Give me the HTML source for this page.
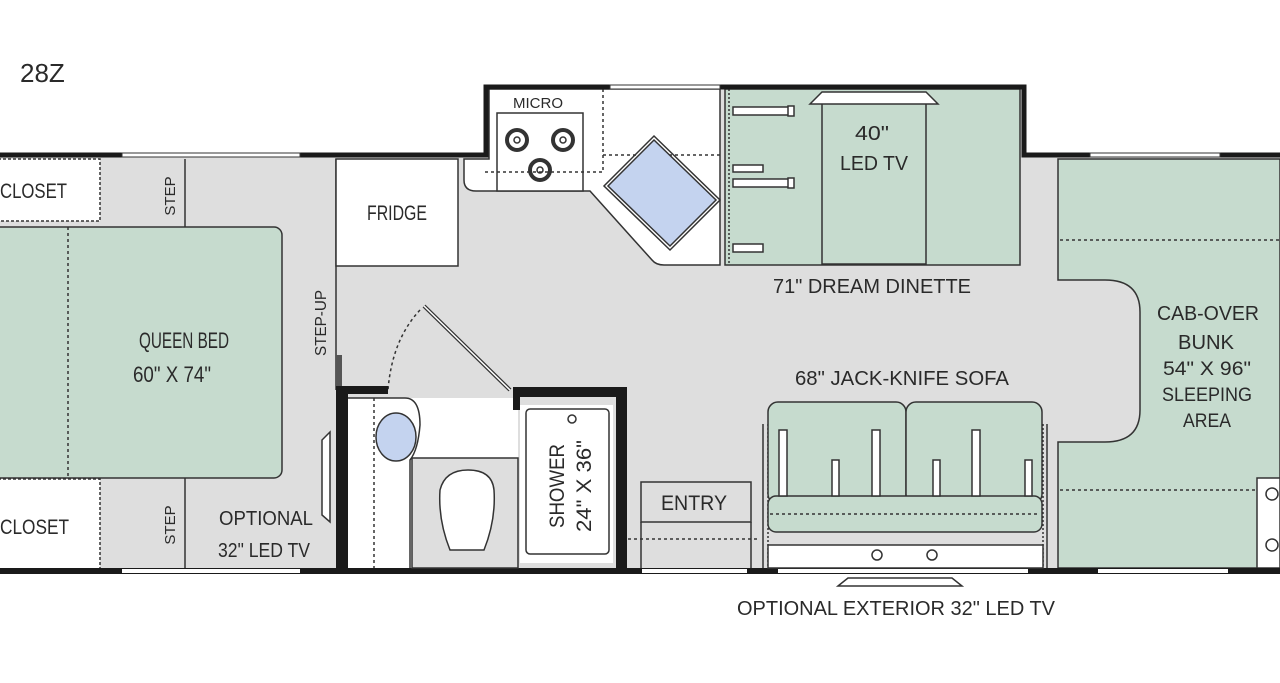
<!DOCTYPE html>
<html><head><style>
html,body{margin:0;padding:0;background:#fff;}
svg{display:block;}
text{font-family:"Liberation Sans Narrow","Liberation Sans",sans-serif;fill:#2a2a2a;}
</style></head><body>
<svg width="1280" height="683" viewBox="0 0 1280 683" xmlns="http://www.w3.org/2000/svg">
<rect width="1280" height="683" fill="#fff"/>
<text x="20" y="82" font-size="26">28Z</text>

<rect x="0" y="157" width="1280" height="412" fill="#dedede"/>
<rect x="487" y="89" width="535" height="70" fill="#dedede"/>

<path d="M1058 159 H1280 V568 H1058 V442 H1105 Q1140 442 1140 410 V312 Q1140 280 1105 280 H1058 Z" fill="#c6dbce" stroke="#333" stroke-width="1.5"/>
<line x1="1060" y1="240" x2="1280" y2="240" stroke="#333" stroke-width="1.5" stroke-dasharray="3,3"/>
<line x1="1060" y1="490" x2="1280" y2="490" stroke="#333" stroke-width="1.5" stroke-dasharray="3,3"/>
<rect x="1257" y="478" width="23" height="90" fill="#fff" stroke="#333" stroke-width="1.5"/>
<circle cx="1272" cy="494" r="6" fill="#fff" stroke="#333" stroke-width="1.5"/>
<circle cx="1272" cy="545" r="6" fill="#fff" stroke="#333" stroke-width="1.5"/>
<text x="1208" y="320" font-size="20" text-anchor="middle" textLength="102" lengthAdjust="spacingAndGlyphs">CAB-OVER</text>
<text x="1206" y="349" font-size="20" text-anchor="middle" textLength="56" lengthAdjust="spacingAndGlyphs">BUNK</text>
<text x="1207" y="375" font-size="19" text-anchor="middle" textLength="88" lengthAdjust="spacingAndGlyphs">54" X 96"</text>
<text x="1207" y="401" font-size="19" text-anchor="middle" textLength="90" lengthAdjust="spacingAndGlyphs">SLEEPING</text>
<text x="1207" y="427" font-size="19" text-anchor="middle" textLength="48" lengthAdjust="spacingAndGlyphs">AREA</text>

<rect x="-2" y="159" width="102" height="62" fill="#fff" stroke="#333" stroke-width="1.5" stroke-dasharray="3,2"/>
<rect x="-2" y="479" width="102" height="90" fill="#fff" stroke="#333" stroke-width="1.5" stroke-dasharray="3,2"/>
<text x="0" y="198" font-size="21" textLength="67" lengthAdjust="spacingAndGlyphs">CLOSET</text>
<text x="0" y="534" font-size="21" textLength="69" lengthAdjust="spacingAndGlyphs">CLOSET</text>
<line x1="185" y1="159" x2="185" y2="228" stroke="#333" stroke-width="1.5"/>
<line x1="185" y1="478" x2="185" y2="568" stroke="#333" stroke-width="1.5"/>
<text transform="translate(175,196) rotate(-90)" font-size="15" text-anchor="middle">STEP</text>
<text transform="translate(175,525) rotate(-90)" font-size="15" text-anchor="middle">STEP</text>

<rect x="-10" y="227" width="292" height="251" rx="8" fill="#c6dbce" stroke="#333" stroke-width="1.5"/>
<line x1="68" y1="227" x2="68" y2="478" stroke="#333" stroke-width="1.5" stroke-dasharray="3,3"/>
<text x="184" y="348" font-size="22" text-anchor="middle" textLength="90" lengthAdjust="spacingAndGlyphs">QUEEN BED</text>
<text x="172" y="382" font-size="22" text-anchor="middle" textLength="78" lengthAdjust="spacingAndGlyphs">60" X 74"</text>

<line x1="336" y1="159" x2="336" y2="390" stroke="#333" stroke-width="1.5"/>
<rect x="336" y="355" width="6" height="35" fill="#555"/>
<text transform="translate(326,323) rotate(-90)" font-size="16" text-anchor="middle" textLength="66" lengthAdjust="spacingAndGlyphs">STEP-UP</text>
<text x="266" y="525" font-size="20" text-anchor="middle" textLength="94" lengthAdjust="spacingAndGlyphs">OPTIONAL</text>
<text x="264" y="557" font-size="20" text-anchor="middle" textLength="92" lengthAdjust="spacingAndGlyphs">32" LED TV</text>
<path d="M330 432 L322 440 L322 515 L330 522 Z" fill="#fff" stroke="#333" stroke-width="1.5"/>

<rect x="336" y="159" width="122" height="107" fill="#fff" stroke="#333" stroke-width="1.5"/>
<text x="397" y="220" font-size="21" text-anchor="middle" textLength="60" lengthAdjust="spacingAndGlyphs">FRIDGE</text>

<path d="M464 159 V180 Q464 191 476 191 H590 L652 260 Q656 265 664 265 H720 V89 H489 V159 Z" fill="#fff" stroke="#333" stroke-width="1.5"/>
<rect x="497" y="113" width="86" height="78" fill="#fff" stroke="#333" stroke-width="1.5"/>
<path d="M485 172 H603 V89 M603 155 H722" fill="none" stroke="#333" stroke-width="1.5" stroke-dasharray="3,3"/>
<g fill="none" stroke="#333">
<circle cx="517" cy="140" r="10" stroke-width="4"/><circle cx="517" cy="140" r="3" stroke-width="1.5"/>
<circle cx="563" cy="140" r="10" stroke-width="4"/><circle cx="563" cy="140" r="3" stroke-width="1.5"/>
<circle cx="540" cy="170" r="10" stroke-width="4"/><circle cx="540" cy="170" r="3" stroke-width="1.5"/>
</g>
<text x="538" y="108" font-size="15" text-anchor="middle" textLength="50" lengthAdjust="spacingAndGlyphs">MICRO</text>
<path d="M654 140 L716 200 L670 246 L608 186 Z" fill="#c4d3ef" stroke="#333" stroke-width="1.5"/>
<path d="M654 136 L720 200 L670 250 L604 186 Z" fill="none" stroke="#333" stroke-width="1.5"/>

<rect x="725" y="89" width="295" height="176" fill="#c6dbce" stroke="#333" stroke-width="1.5"/>
<line x1="729" y1="89" x2="729" y2="265" stroke="#333" stroke-width="1.5" stroke-dasharray="2,2"/>
<rect x="822" y="100" width="104" height="164" fill="#c6dbce" stroke="#333" stroke-width="1.5"/>
<path d="M810 104 L822 92 H926 L938 104 Z" fill="#fff" stroke="#333" stroke-width="1.5"/>
<g fill="#fff" stroke="#333" stroke-width="1.5">
<rect x="733" y="107" width="60" height="8"/><rect x="788" y="106" width="6" height="10"/>
<rect x="733" y="179" width="60" height="8"/><rect x="788" y="178" width="6" height="10"/>
<rect x="733" y="165" width="30" height="7"/><rect x="733" y="244" width="30" height="8"/>
</g>
<text x="872" y="140" font-size="20" text-anchor="middle" textLength="34" lengthAdjust="spacingAndGlyphs">40"</text>
<text x="874" y="170" font-size="20" text-anchor="middle" textLength="68" lengthAdjust="spacingAndGlyphs">LED TV</text>
<text x="872" y="293" font-size="20" text-anchor="middle" textLength="198" lengthAdjust="spacingAndGlyphs">71" DREAM DINETTE</text>

<path d="M0 155 H486 V87 H1024 V155 H1280" fill="none" stroke="#1a1a1a" stroke-width="5"/>
<rect x="610" y="85" width="110" height="4" fill="#fff" stroke="#333" stroke-width="1"/>
<rect x="122" y="153" width="178" height="4" fill="#fff" stroke="#333" stroke-width="1"/>
<rect x="1090" y="153" width="130" height="4" fill="#fff" stroke="#333" stroke-width="1"/>

<rect x="0" y="568" width="1280" height="6" fill="#1a1a1a"/>
<rect x="122" y="569" width="178" height="4" fill="#fff"/>
<rect x="642" y="569" width="105" height="4" fill="#fff"/>
<rect x="778" y="569" width="250" height="4" fill="#fff"/>
<rect x="1098" y="569" width="130" height="4" fill="#fff"/>

<line x1="424" y1="306" x2="510" y2="390" stroke="#333" stroke-width="4"/>
<line x1="424" y1="306" x2="510" y2="390" stroke="#fff" stroke-width="1.5"/>
<path d="M420 310 Q392 340 388 390" fill="none" stroke="#333" stroke-width="1.5" stroke-dasharray="3,3"/>

<rect x="348" y="398" width="170" height="170" fill="#fff"/>
<path d="M412 458 H518 V568 H412 Z" fill="#dedede" stroke="#333" stroke-width="1.5"/>
<path d="M348 398 H405 Q420 398 420 425 Q418 450 410 460 V568" fill="none" stroke="#333" stroke-width="1.5"/>
<line x1="374" y1="398" x2="374" y2="568" stroke="#333" stroke-width="1.5" stroke-dasharray="3,3"/>
<ellipse cx="396" cy="437" rx="20" ry="24" fill="#c4d3ef" stroke="#333" stroke-width="1.5"/>
<path d="M450 550 Q438 520 440 490 Q445 470 468 470 Q492 470 494 490 Q496 520 484 550 Z" fill="#fff" stroke="#333" stroke-width="1.5"/>
<path d="M336 570 V386 H388 V394 H348 V570" fill="#1a1a1a"/>
<path d="M513 387 H627 V570 H616 V397 H520 V410 H513 Z" fill="#1a1a1a"/>
<rect x="520" y="405" width="93" height="158" fill="#fff"/>
<rect x="526" y="409" width="83" height="145" rx="4" fill="#fff" stroke="#333" stroke-width="1.5"/>
<circle cx="572" cy="419" r="4" fill="none" stroke="#333" stroke-width="1.5"/>
<text transform="translate(564,486) rotate(-90)" font-size="21" text-anchor="middle" textLength="84" lengthAdjust="spacingAndGlyphs">SHOWER</text>
<text transform="translate(591,486) rotate(-90)" font-size="21" text-anchor="middle" textLength="92" lengthAdjust="spacingAndGlyphs">24" X 36"</text>

<rect x="641" y="482" width="110" height="40" fill="#dedede" stroke="#333" stroke-width="1.5"/>
<line x1="641" y1="522" x2="641" y2="568" stroke="#333" stroke-width="1.5"/>
<line x1="751" y1="522" x2="751" y2="568" stroke="#333" stroke-width="1.5"/>
<line x1="628" y1="539" x2="757" y2="539" stroke="#333" stroke-width="1.5" stroke-dasharray="3,3"/>
<text x="694" y="510" font-size="21" text-anchor="middle" textLength="66" lengthAdjust="spacingAndGlyphs">ENTRY</text>

<line x1="763" y1="424" x2="763" y2="568" stroke="#333" stroke-width="1.5"/>
<line x1="768" y1="424" x2="768" y2="568" stroke="#333" stroke-width="1.5" stroke-dasharray="2,2"/>
<line x1="1047" y1="424" x2="1047" y2="568" stroke="#333" stroke-width="1.5"/>
<line x1="1043" y1="424" x2="1043" y2="568" stroke="#333" stroke-width="1.5" stroke-dasharray="2,2"/>
<rect x="768" y="545" width="275" height="23" fill="#fff" stroke="#333" stroke-width="1.5"/>
<circle cx="877" cy="555" r="5" fill="#fff" stroke="#333" stroke-width="1.5"/>
<circle cx="932" cy="555" r="5" fill="#fff" stroke="#333" stroke-width="1.5"/>
<rect x="768" y="402" width="138" height="102" rx="10" fill="#c6dbce" stroke="#333" stroke-width="1.5"/>
<rect x="906" y="402" width="136" height="102" rx="10" fill="#c6dbce" stroke="#333" stroke-width="1.5"/>
<rect x="768" y="496" width="274" height="36" rx="8" fill="#c6dbce" stroke="#333" stroke-width="1.5"/>
<line x1="770" y1="514" x2="1040" y2="514" stroke="#333" stroke-width="1.5" stroke-dasharray="3,3"/>
<g fill="#fff" stroke="#333" stroke-width="1.5">
<rect x="779" y="430" width="8" height="66"/><rect x="832" y="460" width="7" height="36"/>
<rect x="872" y="430" width="8" height="66"/><rect x="933" y="460" width="7" height="36"/>
<rect x="972" y="430" width="8" height="66"/><rect x="1025" y="460" width="7" height="36"/>
</g>
<text x="902" y="385" font-size="20" text-anchor="middle" textLength="214" lengthAdjust="spacingAndGlyphs">68" JACK-KNIFE SOFA</text>

<path d="M838 586 L848 578 H952 L962 586 Z" fill="#fff" stroke="#333" stroke-width="1.5"/>
<text x="896" y="615" font-size="20" text-anchor="middle" textLength="318" lengthAdjust="spacingAndGlyphs">OPTIONAL EXTERIOR 32" LED TV</text>
</svg>
</body></html>
